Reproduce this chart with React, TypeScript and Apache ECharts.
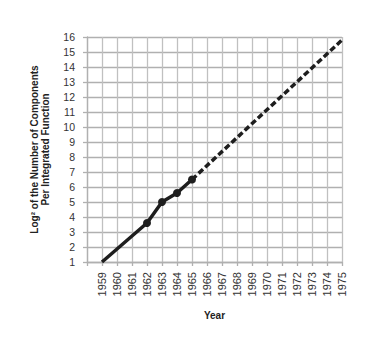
import React, { useEffect, useRef } from "react";
import * as echarts from "echarts";

const solidYears = [1959, 1962, 1963, 1964, 1965];
const solidValues = [1, 3.6, 5, 5.6, 6.5];
const markedYears = [1962, 1963, 1964, 1965];
const dashedYears = [1965, 1975];
const dashedValues = [6.5, 15.8];

export default function App() {
  const ref = useRef<HTMLDivElement>(null);
  useEffect(() => {
    if (!ref.current) return;
    const chart = echarts.init(ref.current, null, { renderer: "svg" });
    const gridColor = "#b0b0b0";
    const labelColor = "#333";
    chart.setOption({
      animation: false,
      grid: { left: 87, right: 47, top: 37, bottom: 91, containLabel: false },
      xAxis: {
        type: "value",
        min: 1958,
        max: 1975,
        interval: 1,
        name: "Year",
        nameLocation: "middle",
        nameGap: 48,
        nameTextStyle: { fontFamily: "Liberation Sans, Arial", fontWeight: "bold", fontSize: 10, color: "#222" },
        axisLine: { show: true, lineStyle: { color: gridColor, width: 1.3 } },
        axisTick: { show: true, length: 4, lineStyle: { color: gridColor, width: 1.3 } },
        splitLine: { show: true, lineStyle: { color: "#c0c0c0", width: 1.3 } },
        axisLabel: {
          rotate: 90,
          margin: 10,
          fontSize: 11,
          color: labelColor,
          fontFamily: "Liberation Sans, Arial",
          formatter: (v: number) => (v === 1958 ? "" : String(v)),
        },
      },
      yAxis: {
        type: "value",
        min: 1,
        max: 16,
        interval: 1,
        name: "Log² of the Number of Components\nPer Integrated Function",
        nameLocation: "middle",
        nameRotate: 90,
        nameGap: 36,
        nameTextStyle: { fontFamily: "Liberation Sans, Arial", fontWeight: "bold", fontSize: 10, color: "#222", lineHeight: 11 },
        axisLine: { show: true, lineStyle: { color: gridColor, width: 1.3 } },
        axisTick: { show: true, length: 4, lineStyle: { color: gridColor, width: 1.3 } },
        splitLine: { show: true, lineStyle: { color: gridColor, width: 1.3 } },
        axisLabel: { margin: 12, fontSize: 10.5, color: labelColor, fontFamily: "Liberation Sans, Arial" },
      },
      series: [
        {
          type: "line",
          data: solidYears.map((y, i) => ({
            value: [y, solidValues[i]],
            symbol: markedYears.includes(y) ? "circle" : "none",
          })),
          symbolSize: 8,
          itemStyle: { color: "#1e1e1e" },
          lineStyle: { color: "#1e1e1e", width: 3.5 },
          z: 3,
        },
        {
          type: "line",
          data: dashedYears.map((y, i) => [y, dashedValues[i]]),
          symbol: "none",
          lineStyle: { color: "#1e1e1e", width: 3.5, type: [6, 3] },
          z: 2,
        },
      ],
    });
    return () => chart.dispose();
  }, []);
  return <div ref={ref} style={{ position: "fixed", left: 0, top: 0, width: 389, height: 353, background: "#fff" }} />;
}
